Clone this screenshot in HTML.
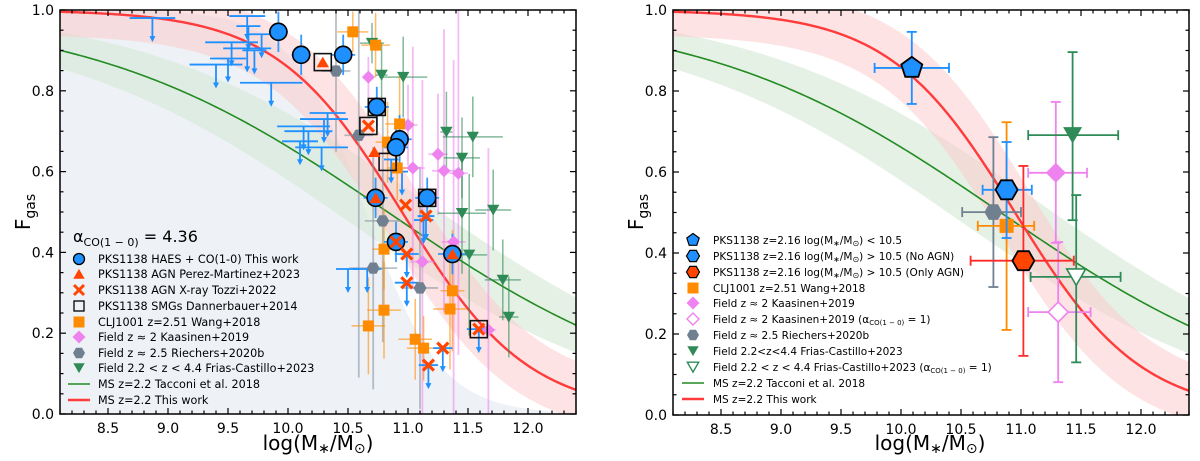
<!DOCTYPE html>
<html><head><meta charset="utf-8"><style>
html,body{margin:0;padding:0;background:#fff;width:1200px;height:461px;overflow:hidden;}
svg{display:block;font-family:"DejaVu Sans","Liberation Sans",sans-serif;}
</style></head><body>
<svg id="chart" width="1200" height="461" viewBox="0 0 1200 461" xmlns="http://www.w3.org/2000/svg"></svg>
<script>
// ---------- data (left panel) ----------
const xTicks = [8.5, 9.0, 9.5, 10.0, 10.5, 11.0, 11.5, 12.0];
const xTickLabels = ["8.5","9.0","9.5","10.0","10.5","11.0","11.5","12.0"];
const yTicks = [0.0, 0.2, 0.4, 0.6, 0.8, 1.0];
const yTickLabels = ["0.0","0.2","0.4","0.6","0.8","1.0"];
const haesX = [9.92,10.11,10.46,10.74,10.93,10.90,10.73,11.16,10.90,11.37];
const haesY = [0.946,0.889,0.889,0.76,0.68,0.66,0.535,0.535,0.426,0.396];
const haesXerr = [0.08,0.08,0.1,0.1,0.1,0.1,0.1,0.1,0.1,0.12];
const haesYerr = [0.05,0.05,0.05,0.05,0.06,0.06,0.05,0.05,0.05,0.05];
const limX = [8.87,9.66,9.67,9.78,9.53,9.66,9.5,9.4,9.72,9.86,10.33,10.3,10.13,10.17,10.28,10.1,10.5,10.66,10.86,10.95,11.13,11.29,11.17,11.59,10.99,10.99,11.15];
const limY = [0.98,0.985,0.96,0.94,0.92,0.905,0.88,0.865,0.9,0.82,0.745,0.73,0.712,0.70,0.66,0.675,0.359,0.359,0.63,0.6,0.48,0.163,0.121,0.21,0.325,0.396,0.49];
const limXerr = [0.19,0.15,0.1,0.13,0.22,0.2,0.15,0.22,0.1,0.26,0.15,0.2,0.22,0.2,0.22,0.15,0.1,0.12,0.06,0.05,0.08,0.08,0.08,0.1,0.1,0.1,0.07];
const agnPmX = [10.29,10.72,10.73,11.37];
const agnPmY = [0.871,0.649,0.535,0.396];
const agnXrX = [10.67,10.98,11.15,10.90,10.99,10.99,11.59,11.29,11.17];
const agnXrY = [0.713,0.517,0.49,0.426,0.396,0.325,0.21,0.163,0.121];
const smgX = [10.29,10.74,10.67,10.83,11.16,11.59];
const smgY = [0.871,0.76,0.713,0.624,0.535,0.21];
const cljX = [10.54,10.73,10.93,10.83,10.91,10.8,10.8,10.67,11.06,11.13,11.37,11.35];
const cljY = [0.946,0.913,0.718,0.673,0.609,0.408,0.257,0.218,0.185,0.163,0.305,0.26];
const cljXerr = [0.13,0.12,0.12,0.1,0.08,0.1,0.14,0.14,0.14,0.14,0.1,0.14];
const cljYerr = [0.05,0.08,0.12,0.1,0.08,0.1,0.12,0.12,0.1,0.08,0.15,0.15];
const kaaX = [10.67,11.0,11.25,11.04,11.3,11.42,11.12,11.38,11.67];
const kaaY = [0.834,0.715,0.643,0.609,0.602,0.596,0.377,0.426,0.208];
const kaaXerr = [0.03,0.08,0.08,0.1,0.1,0.08,0.1,0.1,0.06];
const kaaYerr = [0.05,0.1,0.15,0.3,0.35,0.45,0.45,0.45,0.45];
const riX = [10.4,10.59,10.79,10.71,11.1];
const riY = [0.849,0.69,0.478,0.361,0.312];
const riXerr = [0.12,0.12,0.15,0.2,0.15];
const riYerr = [0.2,0.6,0.3,0.3,0.3];
const frX = [10.7,10.78,10.96,11.32,11.54,11.45,11.71,11.45,11.51,11.79,11.84];
const frY = [0.918,0.839,0.834,0.698,0.686,0.634,0.505,0.497,0.394,0.332,0.24];
const frXerr = [0.1,0.05,0.2,0.05,0.25,0.15,0.15,0.2,0.15,0.15,0.08];
const frYerr = [0.05,0.08,0.1,0.1,0.1,0.1,0.1,0.15,0.2,0.1,0.1];
// ---------- data (right panel) ----------
const rPentX = [10.09], rPentY = [0.857], rPentXlo=[9.78], rPentXhi=[10.40], rPentYlo=[0.768], rPentYhi=[0.946];
const rHexX = [10.88], rHexY = [0.556], rHexXlo=[10.68], rHexXhi=[11.09], rHexYlo=[0.437], rHexYhi=[0.674];
const rAgnX = [11.02], rAgnY = [0.381], rAgnXlo=[10.58], rAgnXhi=[11.44], rAgnYlo=[0.146], rAgnYhi=[0.615];
const rCljX = [10.88], rCljY = [0.467], rCljXlo=[10.64], rCljXhi=[11.11], rCljYlo=[0.21], rCljYhi=[0.723];
const rRiX = [10.77], rRiY = [0.501], rRiXlo=[10.51], rRiXhi=[11.0], rRiYlo=[0.316], rRiYhi=[0.686];
const rKaaX = [11.29], rKaaY = [0.598], rKaaXlo=[11.06], rKaaXhi=[11.55], rKaaYlo=[0.425], rKaaYhi=[0.773];
const rKaa1X = [11.31], rKaa1Y = [0.254], rKaa1Xlo=[11.06], rKaa1Xhi=[11.58], rKaa1Ylo=[0.081], rKaa1Yhi=[0.427];
const rFrX = [11.43], rFrY = [0.691], rFrXlo=[11.06], rFrXhi=[11.81], rFrYlo=[0.481], rFrYhi=[0.896];
const rFr1X = [11.46], rFr1Y = [0.341], rFr1Xlo=[11.08], rFr1Xhi=[11.83], rFr1Ylo=[0.13], rFr1Yhi=[0.543];
// ---------- model curve params ----------
const redModel = [10.95, 0.825];
const greenModel = [10.83, 0.35];
const limitModel = [10.65, 1.4];

const NS = "http://www.w3.org/2000/svg";
const svg = document.getElementById("chart");
function mk(tag, attrs, parent){ const e=document.createElementNS(NS,tag); for(const k in attrs) e.setAttribute(k,attrs[k]); (parent||svg).appendChild(e); return e; }
function logi(x,p){ return 1/(1+Math.pow(10,p[1]*(x-p[0]))); }

function panel(off, y0, isLeft){
  const X = v => off + 60 + (v-8.1)*120;
  const Y = v => y0 - v*(y0-10);
  const L = X(8.1), R = X(12.4), T = Y(1), B = Y(0);
  const g = mk("g",{});
  
  
  const cid = "clip"+off;
  const cp = mk("clipPath",{id:cid},g); mk("rect",{x:L,y:T,width:R-L,height:B-T},cp);
  const pg = mk("g",{"clip-path":"url(#"+cid+")"},g);
  function curvePts(f){ const a=[]; for(let x=8.1;x<=12.41;x+=0.02) a.push([X(x),Y(f(x))]); return a; }
  function bandPath(fu,fl){ const u=curvePts(fu), l=curvePts(fl).reverse(); return "M"+u.concat(l).map(p=>p[0].toFixed(1)+","+p[1].toFixed(1)).join("L")+"Z"; }
  if(isLeft){
    const lim = curvePts(x=>logi(x,limitModel));
    const r = mk("path",{d:"M"+X(8.1)+","+Y(0)+"L"+lim.map(p=>p[0].toFixed(1)+","+p[1].toFixed(1)).join("L")+"L"+X(12.4)+","+Y(0)+"Z",fill:"#eef2f7"},pg);
    
    
  }
  const gd = x=>{const f=logi(x,greenModel); return 0.02+0.07*4*f*(1-f);};
  const gb = mk("path",{d:bandPath(x=>logi(x,greenModel)+gd(x),x=>logi(x,greenModel)-gd(x)),fill:"#d6e8d6","fill-opacity":"0.6"},pg);
  
  
  const rd = x=>{const f=logi(x,redModel); return 0.06+0.05*4*f*(1-f);};
  const rb = mk("path",{d:bandPath(x=>Math.min(1,logi(x,redModel)+rd(x)),x=>logi(x,redModel)-rd(x)),fill:"#fbc8c8","fill-opacity":"0.5"},pg);
  
  
  const gl = mk("polyline",{points:curvePts(x=>logi(x,greenModel)).map(p=>p.join(",")).join(" "),fill:"none",stroke:"#228b22","stroke-width":1.6},pg);
  
  
  const rl = mk("polyline",{points:curvePts(x=>logi(x,redModel)).map(p=>p.join(",")).join(" "),fill:"none",stroke:"#ff3b3b","stroke-width":2.4},pg);
  
  
  return {X,Y,L,R,T,B,g,pg};
}

function err(p, x,y,xlo,xhi,ylo,yhi,color,op,w,cap){
  const e=mk("g",{stroke:color,"stroke-opacity":op,"stroke-width":w,fill:"none"},p.pg);
  mk("line",{x1:p.X(xlo),x2:p.X(xhi),y1:p.Y(y),y2:p.Y(y)},e);
  mk("line",{x1:p.X(x),x2:p.X(x),y1:p.Y(ylo),y2:p.Y(yhi)},e);
  if(cap){ [xlo,xhi].forEach(v=>mk("line",{x1:p.X(v),x2:p.X(v),y1:p.Y(y)-cap,y2:p.Y(y)+cap},e));
    [ylo,yhi].forEach(v=>mk("line",{x1:p.X(x)-cap,x2:p.X(x)+cap,y1:p.Y(v),y2:p.Y(v)},e)); }
  return e;
}
function poly(cx,cy,r,n,rot){ const a=[]; for(let i=0;i<n;i++){const t=rot+i*2*Math.PI/n; a.push((cx+r*Math.cos(t)).toFixed(1)+","+(cy+r*Math.sin(t)).toFixed(1));} return a.join(" "); }
function marker(par,type,cx,cy,s,fill,stroke,sw){
  let e;
  if(type==="circle") e=mk("circle",{cx,cy,r:s,fill,stroke,"stroke-width":sw},par);
  else if(type==="square") e=mk("rect",{x:cx-s,y:cy-s,width:2*s,height:2*s,fill,stroke,"stroke-width":sw},par);
  else if(type==="tri") e=mk("polygon",{points:poly(cx,cy+s*0.25,s*1.1,3,-Math.PI/2),fill,stroke,"stroke-width":sw},par);
  else if(type==="tridown") e=mk("polygon",{points:poly(cx,cy-s*0.25,s*1.1,3,Math.PI/2),fill,stroke,"stroke-width":sw},par);
  else if(type==="diamond") e=mk("polygon",{points:poly(cx,cy,s,4,0),fill,stroke,"stroke-width":sw},par);
  else if(type==="hex") e=mk("polygon",{points:poly(cx,cy,s,6,0),fill,stroke,"stroke-width":sw},par);
  else if(type==="pent") e=mk("polygon",{points:poly(cx,cy,s,5,-Math.PI/2),fill,stroke,"stroke-width":sw},par);
  else if(type==="x"){ e=mk("g",{stroke:fill,"stroke-width":sw||3},par);
    mk("line",{x1:cx-s,y1:cy-s,x2:cx+s,y2:cy+s},e); mk("line",{x1:cx-s,y1:cy+s,x2:cx+s,y2:cy-s},e); }
  return e;
}
function axes(p, ylabelX, xlabelX){
  const ax=mk("g",{},p.g);
  
  
  mk("rect",{x:p.L,y:p.T,width:p.R-p.L,height:p.B-p.T,fill:"none",stroke:"#000","stroke-width":1.5},ax);
  const tk=mk("g",{stroke:"#000","stroke-width":1.2},ax);
  for(let i=0;i<=43;i++){ const v=8.1+i*0.1; const major=Math.abs(v*2-Math.round(v*2))<1e-6; const len=major?6:3.5; const x=p.X(v);
    mk("line",{x1:x,x2:x,y1:p.B,y2:p.B-len},tk); mk("line",{x1:x,x2:x,y1:p.T,y2:p.T+len},tk); }
  for(let i=0;i<=20;i++){ const v=i*0.05; const major=i%4===0; const len=major?6:3.5; const y=p.Y(v);
    mk("line",{x1:p.L,x2:p.L+len,y1:y,y2:y},tk); mk("line",{x1:p.R,x2:p.R-len,y1:y,y2:y},tk); }
  xTicks.forEach((v,i)=>{ const t=mk("text",{x:p.X(v),y:p.B+19,"font-size":14,"text-anchor":"middle"},ax); t.textContent=xTickLabels[i];
      });
  yTicks.forEach((v,i)=>{ const t=mk("text",{x:p.L-6,y:p.Y(v)+5,"font-size":14,"text-anchor":"end"},ax); t.textContent=yTickLabels[i];
      });
  const yl=mk("text",{x:0,y:0,"font-size":20,"text-anchor":"middle",transform:"translate("+ylabelX+",212) rotate(-90)"},ax);
  yl.innerHTML='F<tspan font-size="14" dy="5">gas</tspan>';
   
  const xl=mk("text",{x:xlabelX,y:450,"font-size":20,"text-anchor":"middle"},ax);
  xl.innerHTML='log(M<tspan font-size="14" dy="3">∗</tspan><tspan dy="-3">/M</tspan><tspan font-size="14" dy="3">⊙</tspan><tspan dy="-3">)</tspan>';
   
}
function legend(p, entries, mx, tx, fs){
  const lg=mk("g",{},p.g);
  
  
  entries.forEach(en=>{
    const it=mk("g",{},lg);
    
    
    if(en.line) mk("line",{x1:mx-11,x2:mx+11,y1:en.y,y2:en.y,stroke:en.line,"stroke-width":en.w},it);
    else marker(it,en.m,mx,en.y,en.s,en.f,en.st,en.sw);
    const t=mk("text",{x:tx,y:en.y+4,"font-size":fs},it); t.innerHTML=en.t;
  });
}

// ---------------- LEFT PANEL ----------------
const P=panel(0,414,true);
riX.forEach((x,i)=>err(P,x,riY[i],x-riXerr[i],x+riXerr[i],riY[i]-riYerr[i],riY[i]+riYerr[i],"#8a96a3",0.6,1.8));
kaaX.forEach((x,i)=>err(P,x,kaaY[i],x-kaaXerr[i],x+kaaXerr[i],kaaY[i]-kaaYerr[i],kaaY[i]+kaaYerr[i],"#ee82ee",0.55,1.8));
frX.forEach((x,i)=>err(P,x,frY[i],x-frXerr[i],x+frXerr[i],frY[i]-frYerr[i],frY[i]+frYerr[i],"#2e8b57",0.6,1.5));
cljX.forEach((x,i)=>err(P,x,cljY[i],x-cljXerr[i],x+cljXerr[i],cljY[i]-cljYerr[i],cljY[i]+cljYerr[i],"#ff8c00",0.6,1.5));
haesX.forEach((x,i)=>err(P,x,haesY[i],x-haesXerr[i],x+haesXerr[i],haesY[i]-haesYerr[i],haesY[i]+haesYerr[i],"#1e90ff",0.9,1.8));
limX.forEach((x,i)=>{
  const g=mk("g",{stroke:"#1e90ff","stroke-width":1.8,fill:"#1e90ff"},P.pg);
  
  
  const cx=P.X(x), cy=P.Y(limY[i]);
  mk("line",{x1:P.X(x-limXerr[i]),x2:P.X(x+limXerr[i]),y1:cy,y2:cy},g);
  mk("line",{x1:cx,x2:cx,y1:cy,y2:cy+21},g);
  mk("polygon",{points:(cx-3)+","+(cy+18)+" "+(cx+3)+","+(cy+18)+" "+cx+","+(cy+24),stroke:"none"},g);
});
const mkL=P.pg;
riX.forEach((x,i)=>{const e=marker(mkL,"hex",P.X(x),P.Y(riY[i]),6.5,"#708090","none",0);  });
kaaX.forEach((x,i)=>{const e=marker(mkL,"diamond",P.X(x),P.Y(kaaY[i]),6.5,"#ee82ee","none",0);  });
frX.forEach((x,i)=>{const e=marker(mkL,"tridown",P.X(x),P.Y(frY[i]),6.5,"#2e8b57","none",0);  });
cljX.forEach((x,i)=>{const e=marker(mkL,"square",P.X(x),P.Y(cljY[i]),5.5,"#ff8c00","none",0);  });
smgX.forEach((x,i)=>{const e=marker(mkL,"square",P.X(x),P.Y(smgY[i]),8.5,"none","#111",1.6);  });
haesX.forEach((x,i)=>{const e=marker(mkL,"circle",P.X(x),P.Y(haesY[i]),8.5,"#1e90ff","#000",1.6);  });
agnPmX.forEach((x,i)=>{const e=marker(mkL,"tri",P.X(x),P.Y(agnPmY[i]),6.5,"#ff4500","none",0);  });
agnXrX.forEach((x,i)=>{const e=marker(mkL,"x",P.X(x),P.Y(agnXrY[i]),5.5,"#ff4500",null,3.2);  });
axes(P,30,318);
const alpha=mk("text",{x:73,y:242,"font-size":16},P.g);
alpha.innerHTML='α<tspan font-size="11" dy="4">CO(1 − 0)</tspan><tspan dy="-4"> = 4.36</tspan>';
 
legend(P,[
 {m:"circle",s:5.5,f:"#1e90ff",st:"#000",sw:1.3,y:259,t:"PKS1138 HAES + CO(1-0) This work"},
 {m:"tri",s:6,f:"#ff4500",st:"none",sw:0,y:274,t:"PKS1138 AGN Perez-Martinez+2023"},
 {m:"x",s:5,f:"#ff4500",sw:3,y:290,t:"PKS1138 AGN X-ray Tozzi+2022"},
 {m:"square",s:5,f:"none",st:"#000",sw:1.3,y:306,t:"PKS1138 SMGs Dannerbauer+2014"},
 {m:"square",s:5.5,f:"#ff8c00",st:"none",sw:0,y:322,t:"CLJ1001 z=2.51 Wang+2018"},
 {m:"diamond",s:6.5,f:"#ee82ee",st:"none",sw:0,y:337,t:"Field z ≈ 2 Kaasinen+2019"},
 {m:"hex",s:6,f:"#708090",st:"none",sw:0,y:353,t:"Field z ≈ 2.5 Riechers+2020b"},
 {m:"tridown",s:6,f:"#2e8b57",st:"none",sw:0,y:368,t:"Field 2.2 &lt; z &lt; 4.4 Frias-Castillo+2023"},
 {line:"#228b22",w:1.6,y:384,t:"MS z=2.2 Tacconi et al. 2018"},
 {line:"#ff3b3b",w:2.4,y:400,t:"MS z=2.2 This work"}
],79,98,11.2);

// ---------------- RIGHT PANEL ----------------
const Q=panel(613,415,false);
function rpt(xs,ys,xl,xh,yl,yh,color,type,size,fill,stroke,sw,name){
  xs.forEach((x,i)=>{ err(Q,x,ys[i],xl[i],xh[i],yl[i],yh[i],color,1,1.8,5);
    const e=marker(Q.pg,type,Q.X(x),Q.Y(ys[i]),size,fill,stroke,sw);
      });
}
rpt(rRiX,rRiY,rRiXlo,rRiXhi,rRiYlo,rRiYhi,"#708090","hex",9,"#708090","none",0,"riechers-point");
rpt(rCljX,rCljY,rCljXlo,rCljXhi,rCljYlo,rCljYhi,"#ff8c00","square",7,"#ff8c00","none",0,"clj1001-point");
rpt(rKaaX,rKaaY,rKaaXlo,rKaaXhi,rKaaYlo,rKaaYhi,"#ee82ee","diamond",10,"#ee82ee","none",0,"kaasinen-point");
rpt(rKaa1X,rKaa1Y,rKaa1Xlo,rKaa1Xhi,rKaa1Ylo,rKaa1Yhi,"#ee82ee","diamond",10,"#fff","#ee82ee",1.6,"kaasinen-alpha1-point");
rpt(rFrX,rFrY,rFrXlo,rFrXhi,rFrYlo,rFrYhi,"#2e8b57","tridown",10,"#2e8b57","none",0,"frias-castillo-point");
rpt(rFr1X,rFr1Y,rFr1Xlo,rFr1Xhi,rFr1Ylo,rFr1Yhi,"#2e8b57","tridown",10,"#fff","#2e8b57",1.6,"frias-castillo-alpha1-point");
rpt(rPentX,rPentY,rPentXlo,rPentXhi,rPentYlo,rPentYhi,"#1e90ff","pent",11,"#1e90ff","#000",1.8,"pks1138-low-mass-point");
rpt(rHexX,rHexY,rHexXlo,rHexXhi,rHexYlo,rHexYhi,"#1e90ff","hex",11,"#1e90ff","#000",1.8,"pks1138-no-agn-point");
rpt(rAgnX,rAgnY,rAgnXlo,rAgnXhi,rAgnYlo,rAgnYhi,"#ff2a2a","hex",11,"#ff4500","#000",1.8,"pks1138-only-agn-point");
axes(Q,643,930);
const lm='log(M<tspan font-size="8" dy="2">∗</tspan><tspan dy="-2">/M</tspan><tspan font-size="8" dy="2">⊙</tspan><tspan dy="-2">)</tspan>';
legend(Q,[
 {m:"pent",s:6.5,f:"#1e90ff",st:"#000",sw:1.2,y:240,t:"PKS1138 z=2.16 "+lm+" &lt; 10.5"},
 {m:"hex",s:6.5,f:"#1e90ff",st:"#000",sw:1.2,y:256,t:"PKS1138 z=2.16 "+lm+" &gt; 10.5 (No AGN)"},
 {m:"hex",s:6.5,f:"#ff4500",st:"#000",sw:1.2,y:272,t:"PKS1138 z=2.16 "+lm+" &gt; 10.5 (Only AGN)"},
 {m:"square",s:5.5,f:"#ff8c00",st:"none",sw:0,y:288,t:"CLJ1001 z=2.51 Wang+2018"},
 {m:"diamond",s:6.5,f:"#ee82ee",st:"none",sw:0,y:303,t:"Field z ≈ 2 Kaasinen+2019"},
 {m:"diamond",s:6,f:"#fff",st:"#ee82ee",sw:1.4,y:319,t:'Field z ≈ 2 Kaasinen+2019 (α<tspan font-size="7" dy="2">CO(1 − 0)</tspan><tspan dy="-2"> = 1)</tspan>'},
 {m:"hex",s:6,f:"#708090",st:"none",sw:0,y:335,t:"Field z ≈ 2.5 Riechers+2020b"},
 {m:"tridown",s:6,f:"#2e8b57",st:"none",sw:0,y:351,t:"Field 2.2&lt;z&lt;4.4 Frias-Castillo+2023"},
 {m:"tridown",s:6,f:"#fff",st:"#2e8b57",sw:1.4,y:367,t:'Field 2.2 &lt; z &lt; 4.4 Frias-Castillo+2023 (α<tspan font-size="7" dy="2">CO(1 − 0)</tspan><tspan dy="-2"> = 1)</tspan>'},
 {line:"#228b22",w:1.6,y:383,t:"MS z=2.2 Tacconi et al. 2018"},
 {line:"#ff3b3b",w:2.4,y:399,t:"MS z=2.2 This work"}
],693,713,10.5);
</script>
</body></html>
